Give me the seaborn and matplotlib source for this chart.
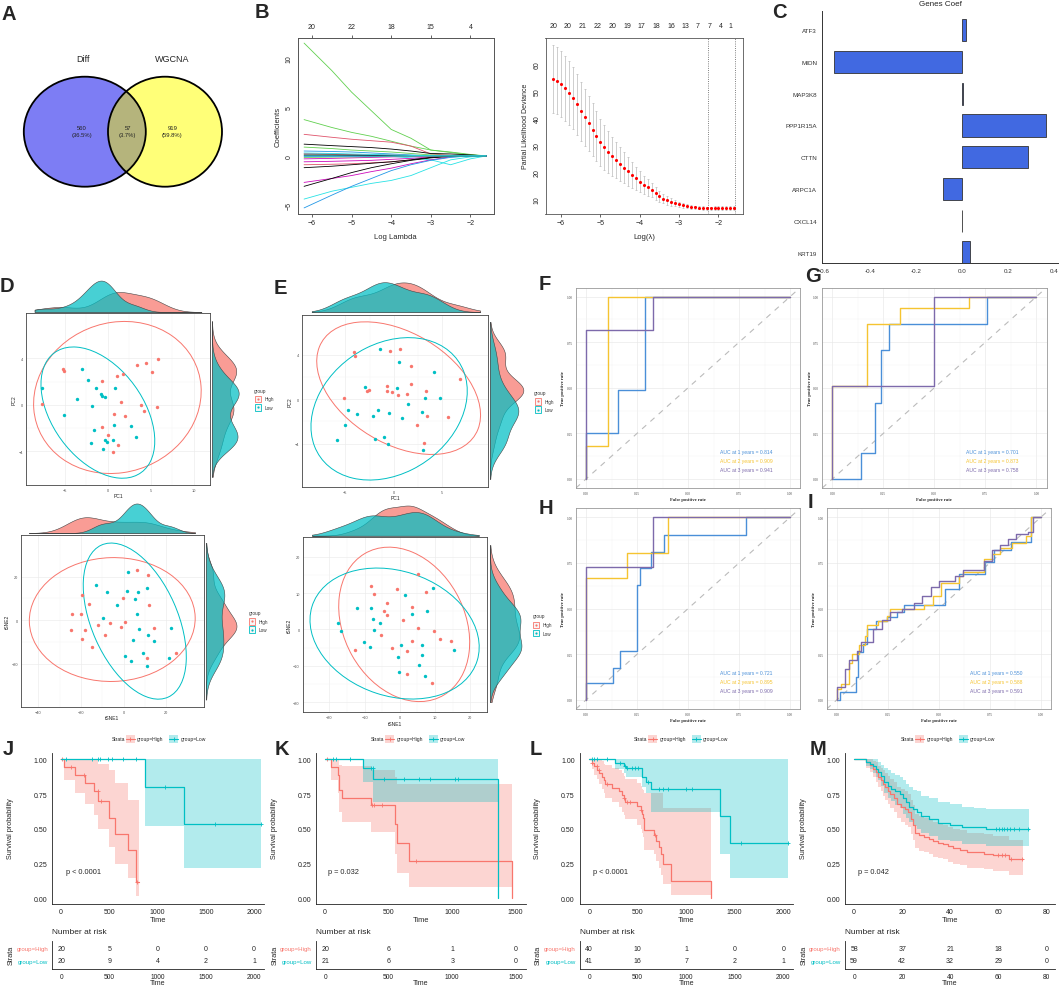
import numpy as np
import pandas as pd
import matplotlib.pyplot as plt
import seaborn as sns
from matplotlib.patches import Ellipse, Rectangle

sns.set_style('white')
plt.rcParams['font.family'] = ['Liberation Sans', 'DejaVu Sans']

RED, CYAN = '#F8766D', '#00BFC4'
ROC_COLS = ['#4a8fd8', '#f5c431', '#7d6aab']

# ---------------- data ----------------
venn_names = ['Diff', 'WGCNA']
venn_counts = [560, 57, 919]
venn_pct = ['36.5%', '3.7%', '59.8%']

# lasso coefficient paths (values at the knots)
lasso_knots = [-6.2, -5.5, -5.0, -4.5, -4.0, -3.5, -3.0, -2.5, -2.0, -1.6]
lasso_paths = [
    [11.5, 8.7, 6.5, 4.6, 2.7, 1.8, 0.6, 0.35, 0.1, 0],
    [3.7, 2.9, 2.4, 2.0, 1.5, 1.0, 0.6, 0.4, 0.15, 0],
    [2.2, 1.9, 1.7, 1.55, 1.4, 1.0, 0.2, 0.05, 0.0, 0],
    [1.2, 1.05, 0.95, 0.85, 0.7, 0.5, 0.25, 0.2, 0.1, 0],
    [0.9, 0.75, 0.6, 0.5, 0.4, 0.25, 0.1, 0.05, 0, 0],
    [0.5, 0.45, 0.4, 0.3, 0.2, 0.1, 0.0, 0, 0, 0],
    [0.25, 0.2, 0.15, 0.1, 0.1, 0.05, 0, 0, 0, 0],
    [0.05, 0.05, 0.05, 0.0, -0.05, -0.2, -0.4, -0.9, -0.3, 0],
    [-0.3, -0.25, -0.2, -0.15, -0.1, -0.05, 0, 0, 0, 0],
    [-0.6, -0.55, -0.5, -0.45, -0.35, -0.25, -0.1, 0, 0, 0],
    [-0.9, -0.85, -0.8, -0.7, -0.6, -0.4, -0.15, 0, 0, 0],
    [-1.2, -1.05, -0.9, -0.75, -0.6, -0.4, -0.15, 0, 0, 0],
    [-2.7, -2.3, -2.0, -1.6, -1.25, -0.8, -0.4, -0.1, 0, 0],
    [-3.1, -2.3, -1.7, -1.2, -0.8, -0.45, -0.2, -0.05, 0, 0],
    [-4.4, -3.6, -3.2, -2.8, -2.5, -2.0, -1.2, -0.4, -0.1, 0],
    [-5.3, -4.0, -3.1, -2.3, -1.5, -0.9, -0.45, -0.15, 0, 0],
    [0.1, 0.1, 0.08, 0.06, 0.05, 0.03, 0.02, 0.01, 0, 0],
    [-0.15, -0.12, -0.1, -0.08, -0.05, -0.03, -0.01, 0, 0, 0],
    [-0.05, -0.05, -0.04, -0.03, -0.02, -0.01, 0, 0, 0, 0],
    [0.3, 0.25, 0.2, 0.15, 0.1, 0.05, 0.02, 0, 0, 0],
]
lasso_cols = ['#61D04F', '#61D04F', '#DF536B', 'black', '#61D04F', '#2297E6', '#DF536B',
              '#28E2E5', '#CD0BBC', '#CD0BBC', '#DF536B', 'black', '#CD0BBC', 'black',
              '#28E2E5', '#2297E6', 'black', '#61D04F', '#2297E6', '#28E2E5']
lasso_top_ticks = [-6, -5, -4, -3, -2]
lasso_top_labels = ['20', '22', '18', '15', '4']

cv_lambda = [-6.2, -6.1, -6.0, -5.9, -5.8, -5.7, -5.6, -5.5, -5.4, -5.3, -5.2, -5.1, -5.0,
             -4.9, -4.8, -4.7, -4.6, -4.5, -4.4, -4.3, -4.2, -4.1, -4.0, -3.9, -3.8, -3.7,
             -3.6, -3.5, -3.4, -3.3, -3.2, -3.1, -3.0, -2.9, -2.8, -2.7, -2.6, -2.5, -2.4,
             -2.3, -2.2, -2.1, -2.0, -1.9, -1.8, -1.7, -1.6]
cv_dev = [54.5, 53.8, 52.5, 51.0, 49.3, 47.3, 45.0, 42.5, 40.3, 38.0, 35.7, 33.3, 31.0,
          29.2, 27.5, 25.9, 24.4, 23.0, 21.6, 20.3, 19.0, 17.7, 16.5, 15.4, 14.4, 13.4,
          12.2, 11.1, 10.3, 9.6, 9.0, 8.6, 8.2, 7.8, 7.5, 7.2, 7.0, 6.9, 6.8,
          6.7, 6.75, 6.8, 6.85, 6.85, 6.85, 6.85, 6.85]
cv_se = [12.5, 12.4, 12.2, 12.0, 11.8, 11.5, 11.2, 10.9, 10.5, 10.1, 9.7, 9.2, 8.7,
         8.2, 7.7, 7.2, 6.7, 6.2, 5.7, 5.2, 4.7, 4.2, 3.8, 3.4, 3.0, 2.7,
         2.4, 2.1, 1.8, 1.6, 1.4, 1.2, 1.0, 0.9, 0.8, 0.7, 0.7, 0.6, 0.6,
         0.6, 0.6, 0.6, 0.6, 0.6, 0.6, 0.6, 0.6]
cv_top_pos = [-6.2, -5.83, -5.46, -5.08, -4.7, -4.32, -3.95, -3.57, -3.2, -2.83, -2.52, -2.22, -1.95, -1.69]
cv_top_labels = ['20', '20', '21', '22', '20', '19', '17', '18', '16', '13', '7', '7', '4', '1']
cv_vlines = [-2.27, -1.57]

genes = ['ATF3', 'MIDN', 'MAP3K8', 'PPP1R15A', 'CTTN', 'ARPC1A', 'CXCL14', 'KRT19']
coefs = [0.018, -0.557, 0.002, 0.364, 0.286, -0.084, -0.001, 0.033]

# PCA / tSNE scores (High, Low)
d_pca_hx = [-5.19, -5.04, -7.6, -0.7, 1.09, 1.82, 3.45, 4.5, 5.1, 5.85, 1.5, 3.9, 4.26, 5.7, 0.7, 2.05, -0.62, 0, 1.2, 0.62]
d_pca_hy = [3.07, 2.93, 0.06, 2.07, 2.5, 2.64, 3.39, 3.56, 2.82, 3.9, 0.23, -0.03, -0.55, -0.17, -0.83, -0.92, -1.95, -2.56, -3.5, -4.05]
d_pca_lx = [-7.6, -5.1, -3.02, -2.33, -3.6, -1.32, -0.81, -0.7, -0.27, 0.89, -1.86, -1.55, 0.74, 2.71, 3.33, -1.98, -0.31, -0.08, 0.58, -0.54]
d_pca_ly = [1.41, -0.89, 3.05, 2.16, 0.52, 1.41, 0.95, 0.75, 0.66, 1.47, -0.11, -2.13, -1.75, -1.81, -2.79, -3.28, -3.05, -3.22, -2.99, -3.76]

d_tsne_hx = [-24.2, -20, -19.8, -16.4, -24.8, -18.1, -19.5, -15, -12.2, -8.75, -6.25, -1.25, 0.8, -0.3, 6.25, 11.25, 11.7, 14.1, 10.8, 24.4]
d_tsne_hy = [2.9, 2.9, 11.8, 7.3, -4.7, -4.7, -8.4, -12.2, -2.4, -6.6, -1.2, -3.1, -0.6, 10.1, 23.1, 20.9, 6.9, -3.4, -17.1, -15.1]
d_tsne_lx = [-12.8, -8, -9.5, -3.3, 1.9, 1.7, 6.7, 5.5, 11.1, 6.1, 7.3, 4.4, 11.25, 14.2, 22.2, 0.6, 3.6, 9.2, 10.8, 21.1]
d_tsne_ly = [16, 12.8, 0.9, 7, 22.3, 13.3, 13.1, 9.6, 15, 3.05, -4.1, -9, -6.6, -9.5, -3.4, -16.2, -18.8, -14.8, -21.2, -17.4]

e_pca_hx = [-4.09, -3.99, -0.38, 0.62, 1.82, -2.78, -2.51, -0.72, -0.72, -0.21, 0.45, 1.41, 1.75, 3.33, -5.12, 3.4, 2.34, 5.57, 3.06, 6.77]
e_pca_hy = [4.2, 3.87, 4.32, 4.47, 3.03, 0.78, 0.87, 1.17, 0.75, 0.66, 0.42, 0.51, 1.41, 0.78, 0.09, -1.53, -2.28, -1.56, -3.93, 1.83]
e_pca_lx = [-1.44, 0.55, 4.16, -2.92, 0.34, 3.23, 4.78, -4.67, -3.75, -1.62, -2.13, -0.45, 0.89, 1.44, 2.89, -4.98, -5.88, -1.92, -1.03, -0.55, 2.96]
e_pca_ly = [4.53, 3.36, 2.43, 1.08, 0.99, 0.12, 0.12, -0.96, -1.32, -0.93, -1.53, -1.23, -1.68, -0.39, -1.17, -2.31, -3.69, -3.6, -3.42, -4.05, -4.59]

e_tsne_hx = [-8.06, -7.3, -3.6, -4.45, -3.7, -0.85, 5.3, 3.4, 1.04, 5.1, 7.4, 9.8, -5.3, -12.7, -2.27, 3.4, 2.09, 2.09, 11.3, 14.5, 9.2]
e_tsne_hy = [11.9, 9.6, 4.0, 5.04, 7.23, 11, 15.2, 6.23, 2.56, 0.46, 10.3, -0.37, -1.47, -5.77, -5.04, -3.11, -6.04, -12.4, -2.56, -3.2, -14.65]
e_tsne_lx = [-17.7, -16.6, -12.2, -8.06, -7.7, -7.3, -5.6, -10.2, -8.5, 1.5, 3.4, 7.87, 9.5, 0.28, -0.38, 6.26, 6.45, 5.6, 15.45, -0.28, 7.3]
e_tsne_ly = [1.74, -0.37, 5.77, 5.86, 2.93, -0.27, 1.65, -3.5, -4.95, 9.34, 4.21, 5.13, 11.45, -4.3, -7.5, -4.3, -7.05, -9.7, -5.68, -11.8, -12.7]

# ROC step curves: (fpr, tpr) for 1, 2, 3 years
f_roc = [([0, 0, 0.158, 0.289, 1.0], [0, 0.25, 0.49, 1.0, 1.0]),
         ([0, 0, 0.11, 1.0], [0, 0.18, 1.0, 1.0]),
         ([0, 0, 0.33, 1.0], [0, 0.82, 1.0, 1.0])]
f_auc = ['0.814', '0.909', '0.941']
g_roc = [([0, 0.139, 0.208, 0.24, 0.276, 0.76, 1.0], [0, 0.14, 0.418, 0.706, 0.85, 1.0, 1.0]),
         ([0, 0, 0.168, 0.332, 0.668, 1.0], [0, 0.51, 0.85, 0.936, 1.0, 1.0]),
         ([0, 0, 0.5, 1.0], [0, 0.51, 1.0, 1.0])]
g_auc = ['0.701', '0.873', '0.758']
h_roc = [([0, 0, 0.134, 0.167, 0.248, 0.265, 0.317, 0.382, 0.783, 1.0],
          [0, 0.091, 0.177, 0.266, 0.63, 0.72, 0.81, 0.905, 1.0, 1.0]),
         ([0, 0, 0.2, 0.4, 1.0], [0, 0.668, 0.805, 1.0, 1.0]),
         ([0, 0, 0.33, 1.0], [0, 0.727, 1.0, 1.0])]
h_auc = ['0.721', '0.895', '0.909']
i_roc = [([0, 0.016, 0.093, 0.106, 0.127, 0.147, 0.193, 0.248, 0.297, 0.332, 0.531, 0.601, 0.727, 0.771, 0.853, 0.953, 1.0],
          [0, 0.042, 0.128, 0.26, 0.305, 0.39, 0.43, 0.455, 0.48, 0.52, 0.61, 0.69, 0.754, 0.823, 0.867, 1.0, 1.0]),
         ([0, 0, 0.02, 0.06, 0.075, 0.11, 0.14, 0.15, 0.2, 0.245, 0.26, 0.43, 0.47, 0.51, 0.6, 0.62, 0.72, 0.76, 0.8, 0.86, 0.93, 0.95, 1.0],
          [0, 0.06, 0.09, 0.2, 0.25, 0.3, 0.35, 0.41, 0.43, 0.46, 0.5, 0.52, 0.57, 0.64, 0.68, 0.7, 0.77, 0.8, 0.83, 0.86, 0.9, 1.0, 1.0]),
         ([0, 0, 0.04, 0.06, 0.1, 0.12, 0.18, 0.22, 0.26, 0.32, 0.38, 0.42, 0.46, 0.5, 0.58, 0.62, 0.72, 0.76, 0.8, 0.84, 0.88, 0.94, 0.96, 1.0],
          [0, 0.07, 0.17, 0.22, 0.27, 0.32, 0.39, 0.44, 0.48, 0.5, 0.53, 0.57, 0.62, 0.65, 0.68, 0.71, 0.76, 0.82, 0.85, 0.88, 0.91, 0.92, 1.0, 1.0])]
i_auc = ['0.550', '0.588', '0.591']

# Kaplan-Meier: time, survival, lower CI, upper CI, censor times
j_high = ([0, 28, 141, 246, 342, 387, 493, 563, 697, 775, 803],
          [1.0, 0.945, 0.89, 0.83, 0.775, 0.70, 0.58, 0.465, 0.35, 0.12, 0.12],
          [1.0, 0.85, 0.76, 0.68, 0.60, 0.50, 0.37, 0.25, 0.15, 0.02, 0.02],
          [1.0, 1.0, 1.0, 1.0, 1.0, 0.97, 0.92, 0.83, 0.71, 0.71, 0.71],
          [10, 106, 236, 384, 412, 792])
j_low = ([0, 870, 1270, 2070],
         [1.0, 0.80, 0.535, 0.535],
         [1.0, 0.52, 0.22, 0.22],
         [1.0, 1.0, 1.0, 1.0],
         [53, 324, 387, 401, 486, 528, 641, 775, 1081, 1595, 2070])
k_high = ([0, 48, 100, 110, 130, 358, 551, 567, 657, 1474],
          [1.0, 0.945, 0.89, 0.78, 0.72, 0.67, 0.535, 0.40, 0.27, 0.0],
          [1.0, 0.85, 0.76, 0.62, 0.55, 0.48, 0.32, 0.18, 0.08, 0.08],
          [1.0, 1.0, 1.0, 0.96, 0.95, 0.92, 0.87, 0.82, 0.82, 0.82],
          [16, 366, 387, 445, 718])
k_low = ([0, 300, 380, 1360],
         [1.0, 0.94, 0.86, 0.0],
         [1.0, 0.84, 0.69, 0.69],
         [1.0, 1.0, 1.0, 1.0],
         [61, 82, 193, 358, 374, 466, 618, 737, 824, 1023, 1042])
l_high = ([0, 24, 50, 80, 100, 130, 150, 165, 233, 303, 338, 355, 373, 495, 530, 547, 554, 565, 669, 686, 721, 739, 756, 843, 1254],
          [1.0, 0.975, 0.95, 0.925, 0.90, 0.875, 0.85, 0.82, 0.795, 0.77, 0.745, 0.72, 0.695, 0.665, 0.635, 0.605, 0.575, 0.49, 0.455, 0.415, 0.37, 0.32, 0.25, 0.125, 0.0],
          [1.0, 0.93, 0.89, 0.86, 0.82, 0.79, 0.76, 0.72, 0.69, 0.66, 0.62, 0.60, 0.57, 0.53, 0.50, 0.47, 0.44, 0.35, 0.32, 0.27, 0.22, 0.17, 0.10, 0.025, 0.025],
          [1.0, 1.0, 1.0, 1.0, 1.0, 0.99, 0.97, 0.96, 0.94, 0.92, 0.90, 0.88, 0.86, 0.83, 0.81, 0.79, 0.78, 0.76, 0.76, 0.76, 0.76, 0.76, 0.65, 0.65, 0.65],
          [24, 77, 98, 181, 355, 390, 425, 537, 676])
l_low = ([0, 268, 362, 383, 540, 582, 634, 1348, 1453, 2045],
         [1.0, 0.975, 0.955, 0.935, 0.87, 0.84, 0.79, 0.59, 0.395, 0.395],
         [1.0, 0.93, 0.90, 0.87, 0.80, 0.76, 0.62, 0.32, 0.145, 0.145],
         [1.0, 1.0, 1.0, 1.0, 1.0, 1.0, 1.0, 1.0, 1.0, 1.0],
         [24, 52, 77, 188, 321, 366, 390, 442, 467, 502, 606, 721, 763, 808, 1000, 1059, 1568, 2045])
m_high = ([0, 5, 6.5, 8, 9, 10, 11, 12, 13, 14, 15, 16.5, 18, 19.5, 21, 22.5, 23.5, 24.5, 25.5, 27, 29, 31, 33, 35, 37, 39, 41, 44, 47, 50, 54, 58, 62, 64.5, 70.5],
          [1.0, 0.98, 0.96, 0.93, 0.91, 0.87, 0.85, 0.82, 0.80, 0.77, 0.75, 0.72, 0.68, 0.66, 0.64, 0.62, 0.57, 0.53, 0.47, 0.455, 0.44, 0.43, 0.415, 0.40, 0.39, 0.375, 0.365, 0.35, 0.335, 0.33, 0.32, 0.315, 0.31, 0.285, 0.285],
          [1.0, 0.94, 0.91, 0.87, 0.84, 0.80, 0.77, 0.74, 0.71, 0.68, 0.65, 0.62, 0.58, 0.55, 0.53, 0.51, 0.46, 0.42, 0.36, 0.34, 0.33, 0.32, 0.30, 0.29, 0.28, 0.26, 0.25, 0.24, 0.22, 0.22, 0.21, 0.20, 0.20, 0.17, 0.17],
          [1.0, 1.0, 1.0, 0.99, 0.98, 0.95, 0.94, 0.92, 0.90, 0.88, 0.86, 0.84, 0.80, 0.79, 0.77, 0.75, 0.71, 0.67, 0.61, 0.59, 0.58, 0.57, 0.55, 0.54, 0.53, 0.51, 0.50, 0.49, 0.47, 0.47, 0.46, 0.45, 0.45, 0.42, 0.42],
          [60, 61.5, 63, 65.5, 70])
m_low = ([0, 5, 6.5, 8, 9, 10, 11, 12.5, 14, 15.5, 17, 19, 20.5, 21.5, 23, 24.5, 26, 28, 31, 35, 40, 45, 50, 55, 73],
         [1.0, 0.98, 0.97, 0.95, 0.93, 0.91, 0.88, 0.84, 0.81, 0.79, 0.77, 0.75, 0.72, 0.69, 0.66, 0.64, 0.62, 0.59, 0.57, 0.54, 0.53, 0.515, 0.51, 0.497, 0.497],
         [1.0, 0.95, 0.93, 0.90, 0.87, 0.85, 0.81, 0.76, 0.72, 0.70, 0.67, 0.65, 0.61, 0.58, 0.55, 0.52, 0.50, 0.47, 0.45, 0.42, 0.41, 0.39, 0.39, 0.38, 0.38],
         [1.0, 1.0, 1.0, 1.0, 1.0, 0.98, 0.96, 0.94, 0.92, 0.90, 0.89, 0.87, 0.85, 0.82, 0.80, 0.78, 0.77, 0.74, 0.72, 0.69, 0.68, 0.66, 0.65, 0.64, 0.64],
         [59, 60.5, 61.5, 62.5, 63.5, 65, 66.5, 68.5, 72.5])

j_risk = ([20, 5, 0, 0, 0], [20, 9, 4, 2, 1])
k_risk = ([20, 6, 1, 0], [21, 6, 3, 0])
l_risk = ([40, 10, 1, 0, 0], [41, 16, 7, 2, 1])
m_risk = ([58, 37, 21, 18, 0], [59, 42, 32, 29, 0])
p_values = ['p < 0.0001', 'p = 0.032', 'p < 0.0001', 'p = 0.042']

# ---------------- figure ----------------
W, H = 1059, 987
fig = plt.figure(figsize=(W / 100, H / 100), dpi=100)


def box(x0, y0, x1, y1):
    return fig.add_axes([x0 / W, 1 - y1 / H, (x1 - x0) / W, (y1 - y0) / H])


# A: venn
ax = box(0, 0, 250, 245)
ax.set_xlim(0, 250); ax.set_ylim(245, 0); ax.axis('off')
e1 = Ellipse((84.8, 132.7), 122, 110, fc='#7d7df4', ec='none')
e2 = Ellipse((165, 132.7), 114, 110, fc='#ffff78', ec='none')
ax.add_patch(e1); ax.add_patch(e2)
e3 = Ellipse((84.8, 132.7), 122, 110, fc='#b5b47c', ec='none')
ax.add_patch(e3); e3.set_clip_path(e2)
ax.add_patch(Ellipse((84.8, 132.7), 122, 110, fc='none', ec='black', lw=1.3))
ax.add_patch(Ellipse((165, 132.7), 114, 110, fc='none', ec='black', lw=1.3))
ax.text(83, 59, venn_names[0], ha='center', va='center', fontsize=6.5)
ax.text(172.4, 59, venn_names[1], ha='center', va='center', fontsize=6.5)
for xx, n, p in zip([82, 127.8, 172.4], venn_counts, venn_pct):
    ax.text(xx, 131.5, f'{n}\n({p})', ha='center', va='center', fontsize=4.2, linespacing=1.5, color='#222')

# B left: coefficient paths
ax = box(297.5, 38.5, 494, 215)
for vals, col in zip(lasso_paths, lasso_cols):
    sns.lineplot(x=lasso_knots, y=vals, ax=ax, color=col, linewidth=0.6, legend=False)
ax.set_xlim(-6.366, -1.404); ax.set_ylim(-5.92, 12.07)
ax.set_xticks([-6, -5, -4, -3, -2]); ax.set_yticks([-5, 0, 5, 10])
ax.tick_params(labelsize=5, length=2, width=0.5, pad=1.5)
for t in ax.get_yticklabels():
    t.set_rotation(90); t.set_va('center')
ax.set_xlabel('Log Lambda', fontsize=5.5, labelpad=5)
ax.set_ylabel('Coefficients', fontsize=5.5, labelpad=3)
for s in ax.spines.values():
    s.set_linewidth(0.6); s.set_color('#555')
tx = ax.twiny(); tx.set_xlim(ax.get_xlim())
tx.set_xticks(lasso_top_ticks); tx.set_xticklabels(lasso_top_labels)
tx.tick_params(labelsize=5, length=2, width=0.5, pad=3.5)
for s in tx.spines.values():
    s.set_linewidth(0.6); s.set_color('#555')

# B right: CV deviance
ax = box(545.5, 38.5, 742.7, 215)
ax.errorbar(cv_lambda, cv_dev, yerr=cv_se, fmt='none', ecolor='#BBBBBB', elinewidth=0.5, capsize=1, capthick=0.5)
sns.scatterplot(x=cv_lambda, y=cv_dev, ax=ax, color='red', s=5, linewidth=0, legend=False, zorder=3)
for v in cv_vlines:
    ax.axvline(v, color='#555', ls=':', lw=0.6)
ax.set_xlim(-6.395, -1.385); ax.set_ylim(4.6, 69.7)
ax.set_xticks([-6, -5, -4, -3, -2]); ax.set_yticks([10, 20, 30, 40, 50, 60])
ax.tick_params(labelsize=5, length=2, width=0.5, pad=1.5)
for t in ax.get_yticklabels():
    t.set_rotation(90); t.set_va('center')
ax.set_xlabel('Log(λ)', fontsize=5.5, labelpad=5)
ax.set_ylabel('Partial Likelihood Deviance', fontsize=5, labelpad=3)
for s in ax.spines.values():
    s.set_linewidth(0.6); s.set_color('#555')
tx = ax.twiny(); tx.set_xlim(ax.get_xlim())
tx.set_xticks(cv_top_pos); tx.set_xticklabels(cv_top_labels)
tx.tick_params(labelsize=5, length=0, pad=6)
for s in tx.spines.values():
    s.set_visible(False)

# C: coefficients
ax = box(822, 12, 1058, 264)
sns.barplot(x=coefs, y=genes, orient='h', color='#4169E1', saturation=1, edgecolor='#333333',
            linewidth=0.6, width=0.7, ax=ax)
ax.set_xlim(-0.611, 0.417); ax.set_ylim(7.33, -0.6)
ax.set_xticks([-0.6, -0.4, -0.2, 0.0, 0.2, 0.4])
ax.set_xticklabels(['-0.6', '-0.4', '-0.2', '0.0', '0.2', '0.4'])
ax.tick_params(labelsize=4.5, length=2, width=0.5, pad=1.5, colors='#333')
ax.set_xlabel(''); ax.set_ylabel('')
sns.despine(ax=ax)
for s in ('left', 'bottom'):
    ax.spines[s].set_linewidth(0.7); ax.spines[s].set_color('#333')

# D / E: PCA & tSNE with marginal densities
ELL = 2.65


def ellipse(ax, x, y, col):
    xy = np.vstack([x, y])
    m = xy.mean(axis=1)
    vals, vecs = np.linalg.eigh(np.cov(xy))
    ang = np.degrees(np.arctan2(vecs[1, 1], vecs[0, 1]))
    ax.add_patch(Ellipse(m, 2 * ELL * np.sqrt(vals[1]), 2 * ELL * np.sqrt(vals[0]), angle=ang,
                         fc='none', ec=col, lw=0.7))


def scatter_panel(frame, top, right, hx, hy, lx, ly, xlim, ylim, xclip, yclip, xt, yt, xl, yl):
    x0, y0, x1, y1 = frame
    ax = box(*frame)
    for x, y, c in ((hx, hy, RED), (lx, ly, CYAN)):
        sns.scatterplot(x=x, y=y, ax=ax, color=c, s=6, linewidth=0, legend=False, zorder=3)
        ellipse(ax, x, y, c)
    ax.set_xlim(xlim); ax.set_ylim(ylim)
    ax.set_xticks(xt); ax.set_yticks(yt)
    ax.set_xticks([(a + b) / 2 for a, b in zip(xt[:-1], xt[1:])], minor=True)
    ax.set_yticks([(a + b) / 2 for a, b in zip(yt[:-1], yt[1:])], minor=True)
    ax.grid(True, which='major', color='#EBEBEB', lw=0.45)
    ax.grid(True, which='minor', color='#F3F3F3', lw=0.3)
    ax.tick_params(labelsize=2.8, length=1.2, width=0.3, pad=1, colors='#555')
    ax.tick_params(which='minor', length=0)
    ax.set_xlabel(xl, fontsize=3.6, labelpad=1)
    ax.set_ylabel(yl, fontsize=3.6, labelpad=1)
    for s in ax.spines.values():
        s.set_linewidth(0.6); s.set_color('#444')
    at = box(x0, top[0], x1, top[1])
    for x, c in ((hx, RED), (lx, CYAN)):
        sns.kdeplot(x=x, ax=at, fill=True, color=c, alpha=0.72, linewidth=0.4, clip=xclip, cut=10, bw_adjust=0.85)
    at.set_xlim(xlim); at.set_ylim(bottom=0); at.axis('off')
    ar = box(right[0], y0, right[1], y1)
    for y, c in ((hy, RED), (ly, CYAN)):
        sns.kdeplot(y=y, ax=ar, fill=True, color=c, alpha=0.72, linewidth=0.4, clip=yclip, cut=10, bw_adjust=0.85)
    ar.set_ylim(ylim); ar.set_xlim(left=0); ar.axis('off')
    for a in (at, ar):
        for coll in a.collections:
            coll.set_edgecolor('#444')


scatter_panel((26, 314, 210, 486), (280, 313), (212, 240), d_pca_hx, d_pca_hy, d_pca_lx, d_pca_ly,
              (-9.5, 11.9), (-6.9, 7.9), (-8.5, 10.9), (-6.2, 7.2), [-5, 0, 5, 10], [-4, 0, 4], 'PC1', 'PC2')
scatter_panel((21, 536, 204, 708), (503, 534), (206, 238), d_tsne_hx, d_tsne_hy, d_tsne_lx, d_tsne_ly,
              (-48.2, 37.7), (-39.8, 39.1), (-44.5, 33.5), (-36.4, 35.5), [-40, -20, 0, 20], [-20, 0, 20], 'tSNE1', 'tSNE2')
scatter_panel((302, 315.7, 488, 488), (281.7, 313), (490, 525), e_pca_hx, e_pca_hy, e_pca_lx, e_pca_ly,
              (-9.45, 9.7), (-7.9, 7.6), (-8.45, 8.9), (-7.18, 6.96), [-5, 0, 5], [-4, 0, 4], 'PC1', 'PC2')
scatter_panel((302.7, 538, 487, 713.3), (505, 536.7), (490, 523), e_tsne_hx, e_tsne_hy, e_tsne_lx, e_tsne_ly,
              (-27.6, 24.8), (-22.8, 25.4), (-25, 22.5), (-20, 23.2), [-20, -10, 0, 10, 20], [-20, -10, 0, 10, 20], 'tSNE1', 'tSNE2')


# F-I: time ROC
def roc_panel(frame, curves, aucs):
    ax = box(*frame)
    ax.set_xlim(-0.05, 1.05); ax.set_ylim(-0.05, 1.05)
    ticks = [0, 0.25, 0.5, 0.75, 1.0]
    ax.set_xticks(ticks); ax.set_yticks(ticks)
    ax.set_xticklabels(['0.00', '0.25', '0.50', '0.75', '1.00'])
    ax.set_yticklabels(['0.00', '0.25', '0.50', '0.75', '1.00'])
    ax.set_xticks([0.125, 0.375, 0.625, 0.875], minor=True)
    ax.set_yticks([0.125, 0.375, 0.625, 0.875], minor=True)
    ax.grid(True, which='major', color='#E8E8E8', lw=0.45)
    ax.grid(True, which='minor', color='#F2F2F2', lw=0.3)
    ax.tick_params(labelsize=2.4, length=1.2, width=0.3, pad=1, colors='#444')
    ax.tick_params(which='minor', length=0)
    for t in ax.get_xticklabels() + ax.get_yticklabels():
        t.set_family(['Liberation Serif'])
    ax.plot([-0.05, 1.05], [-0.05, 1.05], ls=(0, (5, 5)), color='#BBBBBB', lw=0.8)
    for (fx, ty), col in zip(curves, ROC_COLS):
        sns.lineplot(x=fx, y=ty, ax=ax, color=col, drawstyle='steps-post', estimator=None,
                     sort=False, linewidth=1.0, legend=False)
    for k, (a, col) in enumerate(zip(aucs, ROC_COLS)):
        ax.text(0.655, 0.15 - 0.05 * k, f'AUC at {k + 1} years = {a}', color=col, fontsize=3.6,
                ha='left', va='center')
    ax.set_xlabel('False positive rate', fontsize=3.3, fontweight='bold', family=['Liberation Serif'], labelpad=1)
    ax.set_ylabel('True positive rate', fontsize=3.3, fontweight='bold', family=['Liberation Serif'], labelpad=1)
    for s in ax.spines.values():
        s.set_linewidth(0.6); s.set_color('#999')


roc_panel((575.8, 288.6, 800.2, 489.1), f_roc, f_auc)
roc_panel((822.1, 288.6, 1046.5, 489.1), g_roc, g_auc)
roc_panel((575.8, 509.2, 800.2, 710.1), h_roc, h_auc)
roc_panel((826.5, 509.2, 1050.9, 710.1), i_roc, i_auc)


# J-M: Kaplan-Meier with risk tables
def km_panel(x0, x1, xlim, xticks, groups, risk, pval, pval_x):
    ax = box(x0, 753.7, x1, 904.5)
    for (t, s, lo, hi, cens), col in zip(groups, (RED, CYAN)):
        ax.fill_between(t, lo, hi, step='post', color=col, alpha=0.3, linewidth=0)
        sns.lineplot(x=t, y=s, ax=ax, color=col, drawstyle='steps-post', estimator=None,
                     sort=False, linewidth=0.9, legend=False)
        idx = np.searchsorted(t, cens, side='right') - 1
        ax.plot(cens, np.asarray(s)[idx], '+', color=col, ms=3.2, mew=0.6)
    ax.set_xlim(xlim); ax.set_ylim(-0.037, 1.048)
    ax.set_xticks(xticks); ax.set_yticks([0, 0.25, 0.5, 0.75, 1.0])
    ax.set_yticklabels(['0.00', '0.25', '0.50', '0.75', '1.00'])
    ax.tick_params(labelsize=5, length=2, width=0.5, pad=1.5, colors='#222')
    ax.set_xlabel('Time', fontsize=5.4, labelpad=0.5)
    ax.set_ylabel('Survival probability', fontsize=5.2)
    ax.yaxis.set_label_coords(-0.18, 0.5)
    sns.despine(ax=ax)
    for s in ('left', 'bottom'):
        ax.spines[s].set_linewidth(0.6); ax.spines[s].set_color('#222')
    ax.text(pval_x, 0.19, pval, fontsize=5.3, ha='left', va='center')

    tb = box(x0, 941.7, x1, 970)
    tb.set_xlim(xlim); tb.set_ylim(0.346, 2.575)
    for row, yy in zip(risk, (2, 1)):
        for xx, n in zip(xticks, row):
            tb.text(xx, yy, str(n), ha='center', va='center', fontsize=5)
    tb.set_xticks(xticks); tb.set_yticks([2, 1])
    tb.set_yticklabels(['group=High', 'group=Low'])
    for t, c in zip(tb.get_yticklabels(), (RED, CYAN)):
        t.set_color(c)
    tb.tick_params(axis='y', labelsize=4.4, length=2, width=0.5, pad=1)
    tb.tick_params(axis='x', labelsize=4.8, length=2, width=0.5, pad=1, colors='#222')
    tb.set_xlabel('Time', fontsize=5.1, labelpad=-0.5)
    tb.set_ylabel('Strata', fontsize=5.2)
    tb.yaxis.set_label_coords(-0.18, 0.5)
    sns.despine(ax=tb)
    for s in ('left', 'bottom'):
        tb.spines[s].set_linewidth(0.6); tb.spines[s].set_color('#222')
    fig.text(x0 / W, 1 - 932.5 / H, 'Number at risk', fontsize=6, ha='left', va='center')


km_panel(52.4, 263.6, (-90, 2100), [0, 500, 1000, 1500, 2000], (j_high, j_low), j_risk, p_values[0], 50)
km_panel(316, 525.6, (-72, 1578), [0, 500, 1000, 1500], (k_high, k_low), k_risk, p_values[1], 26)
km_panel(579.7, 792.6, (-98, 2097), [0, 500, 1000, 1500, 2000], (l_high, l_low), l_risk, p_values[2], 40)
km_panel(845, 1054.6, (-3.8, 83.5), [0, 20, 40, 60, 80], (m_high, m_low), m_risk, p_values[3], 1.8)

# ---------------- overlay: letters, legends, titles ----------------
ov = fig.add_axes([0, 0, 1, 1], zorder=10)
ov.set_xlim(0, W); ov.set_ylim(H, 0); ov.axis('off')
letters = {'A': (9, 14), 'B': (262, 12.6), 'C': (779.5, 13), 'D': (6.7, 287), 'E': (280.7, 288),
           'F': (544.5, 284), 'G': (812.5, 276.5), 'H': (546, 508), 'I': (810.5, 502),
           'J': (8.5, 749.4), 'K': (281.4, 749.4), 'L': (535.8, 749.4), 'M': (818, 749.4)}
for k, (x, y) in letters.items():
    ov.text(x, y, k, fontsize=14.5, fontweight='bold', ha='center', va='center')
ov.text(940, 4, 'Genes Coef', fontsize=5.8, ha='center', va='center', color='#222')

# group legends for the scatter panels
for gx, gy in [(254, 391), (248.3, 613.3), (534, 393.3), (532.3, 616.7)]:
    ov.text(gx, gy, 'group', fontsize=3.4, ha='left', va='center', color='#333')
    for k, (lab, col) in enumerate([('High', RED), ('Low', CYAN)]):
        cy = gy + 9 + 8.3 * k
        ov.add_patch(Rectangle((gx + 0.5, cy - 3.2), 6.5, 6.4, fc='#F6F6F6', ec=col, lw=0.6))
        ov.plot(gx + 3.75, cy, 'o', color=col, ms=1.6, mew=0)
        ov.text(gx + 10.5, cy, lab, fontsize=3.3, ha='left', va='center', color='#333')

# strata legends above the KM plots
for sx in [111.5, 371, 633.8, 900.8]:
    ov.text(sx, 739.5, 'Strata', fontsize=3.6, ha='left', va='center')
    for k, (lab, col) in enumerate([('group=High', RED), ('group=Low', CYAN)]):
        kx = sx + 14.2 + 43.5 * k
        ov.add_patch(Rectangle((kx, 735.5), 9, 8, fc=col, alpha=0.3, ec='none'))
        ov.plot([kx, kx + 9], [739.5, 739.5], color=col, lw=0.8)
        ov.plot(kx + 4.5, 739.5, '+', color=col, ms=3, mew=0.6)
        ov.text(kx + 11.5, 739.5, lab, fontsize=3.6, ha='left', va='center')

fig.savefig('out.png', dpi=100)
